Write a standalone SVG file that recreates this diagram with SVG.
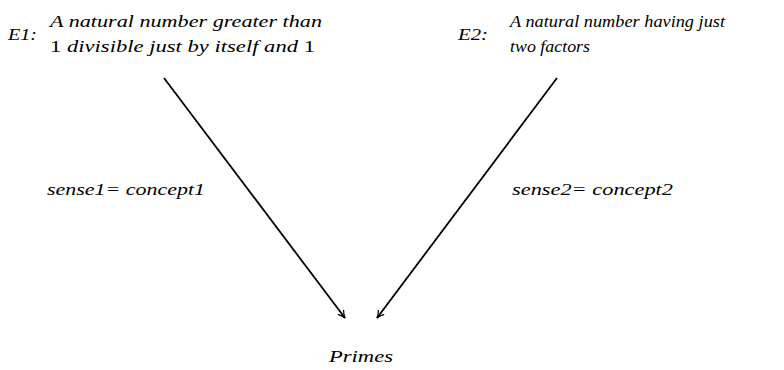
<svg xmlns="http://www.w3.org/2000/svg" width="784" height="370" viewBox="0 0 784 370">
<style>
text{font-family:'Liberation Serif','Times New Roman',serif;font-size:17px;font-style:italic;fill:#000}
.up{font-style:normal}
.c{stroke:#000;stroke-width:1.8;fill:none}
</style>
<defs>
<marker id="ah" viewBox="0 0 10 10" refX="9" refY="5" markerWidth="9" markerHeight="9" markerUnits="userSpaceOnUse" orient="auto">
<path d="M1,1 Q5,4 9,5 Q5,6 1,9" fill="none" stroke="#000" stroke-width="1.4"/>
</marker>
</defs>
<rect width="784" height="370" fill="#fff"/>
<g id="E1">
<text x="8" y="40" textLength="29" lengthAdjust="spacingAndGlyphs">E1:</text>
<text x="50" y="27" textLength="272" lengthAdjust="spacingAndGlyphs">A natural number greater than</text>
<text x="50" y="52" textLength="265" lengthAdjust="spacingAndGlyphs"><tspan class="up">1</tspan> divisible just by itself and <tspan class="up">1</tspan></text>
</g>
<g id="E2">
<text x="458" y="40" textLength="30" lengthAdjust="spacingAndGlyphs">E2:</text>
<text x="510" y="27" textLength="215" lengthAdjust="spacingAndGlyphs">A natural number having just</text>
<text x="510" y="52" textLength="80" lengthAdjust="spacingAndGlyphs">two factors</text>
</g>
<g id="Primes">
<text x="329" y="362" textLength="64" lengthAdjust="spacingAndGlyphs">Primes</text>
</g>
<g id="connectors">
<line class="c" x1="164" y1="78" x2="345" y2="318" marker-end="url(#ah)"/>
<line class="c" x1="557" y1="78" x2="377" y2="318" marker-end="url(#ah)"/>
<text x="47" y="195" textLength="158" lengthAdjust="spacingAndGlyphs">sense1= concept1</text>
<text x="512" y="195" textLength="161" lengthAdjust="spacingAndGlyphs">sense2= concept2</text>
</g>
</svg>
